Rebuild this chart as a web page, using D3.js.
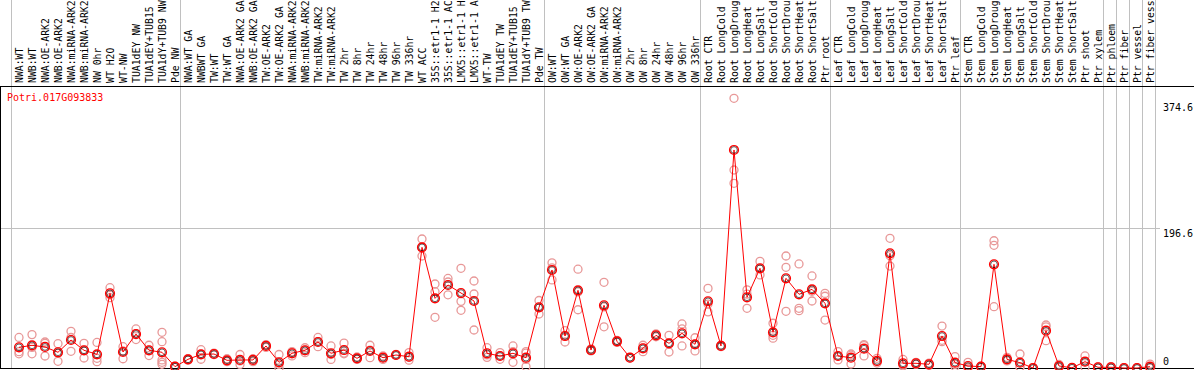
<!DOCTYPE html>
<html><head><meta charset="utf-8">
<script src="https://cdn.jsdelivr.net/npm/d3@7/dist/d3.min.js"></script>
<style>body{margin:0;background:#fff}svg{display:block}</style>
</head><body>
<svg id="chart" width="1194" height="370"></svg>
<script>
const geneId = "Potri.017G093833";
const categories = [
 "NWA:WT","NWB:WT","NWA:OE-ARK2","NWB:OE-ARK2","NWA:miRNA-ARK2","NWB:miRNA-ARK2","NW 0hr","WT H2O","WT-NW","TUA1dEY NW","TUA1dEY+TUB15 NW","TUA1dY+TUB9 NW","Pde NW",
 "NWA:WT GA","NWBWT GA","TW:WT","TW:WT GA","NWA:OE-ARK2 GA","NWB:OE-ARK2 GA","TW:OE-ARK2","TW:OE-ARK2 GA","NWA:miRNA-ARK2","NWB:miRNA-ARK2","TW:miRNA-ARK2","TW:miRNA-ARK2","TW 2hr","TW 8hr","TW 24hr","TW 48hr","TW 96hr","TW 336hr","WT ACC","35S::etr1-1 H2O","35S::etr1-1 ACC","LMX5::etr1-1 H2O","LMX5::etr1-1 ACC","WT-TW","TUA1dEY TW","TUA1dEY+TUB15 TW","TUA1dY+TUB9 TW","Pde TW",
 "OW:WT","OW:WT GA","OW:OE-ARK2","OW:OE-ARK2 GA","OW:miRNA-ARK2","OW:miRNA-ARK2","OW 2hr","OW 8hr","OW 24hr","OW 48hr","OW 96hr","OW 336hr",
 "Root CTR","Root LongCold","Root LongDrought","Root LongHeat","Root LongSalt","Root ShortCold","Root ShortDrought","Root ShortHeat","Root ShortSalt","Ptr root",
 "Leaf CTR","Leaf LongCold","Leaf LongDrought","Leaf LongHeat","Leaf LongSalt","Leaf ShortCold","Leaf ShortDrought","Leaf ShortHeat","Leaf ShortSalt","Ptr leaf",
 "Stem CTR","Stem LongCold","Stem LongDrought","Stem LongHeat","Stem LongSalt","Stem ShortCold","Stem ShortDrought","Stem ShortHeat","Stem ShortSalt","Ptr shoot","Ptr xylem",
 "Ptr phloem","Ptr fiber","Ptr vessel","Ptr fiber vessel"
];
const means = [
 29.1,31.9,29.6,22.1,39.4,24.9,19.2,105.1,22.5,47.8,24.9,22.1,1.9,
 12.2,19.2,19.7,10.8,11.3,11.3,31.0,8.0,20.7,24.9,36.6,20.7,25.3,13.6,23.9,14.5,18.3,15.9,169.8,98.0,116.8,105.5,94.3,20.7,16.9,20.7,14.5,85.4,
 137.9,45.0,109.3,25.3,88.2,37.5,14.5,27.7,46.0,34.7,48.8,33.3,
 93.9,31.0,306.8,99.5,140.3,50.2,126.2,103.7,110.7,91.0,
 16.9,14.5,27.2,9.9,161.4,6.6,6.6,5.2,45.0,7.5,
 2.8,1.9,145.9,12.2,7.5,0.0,52.5,2.8,0.3,8.9,1.0,
 1.0,0.0,0.0,1.9
];
const replicates = [
 [43,23,20],[47,29,20],[36.6,34.7,16.9],[34.2,20.7,9.4],[51.6,43,23.5],[34.7,25,14.1],[36,13.6,8.9],[113,103,99],[30,24,13],[55,48,40],[32,25,17.5],[50.2,37,11.3,8,5.2],[2,1,2.5],
 [13,12,11],[25.8,19.5,12.3],[21,19,19],[13,10.5,9],[19,10,5],[13,11,9],[33,31,29],[19,5,0],[23,17,22],[28.5,25,21.5],[43,37,30],[31,19,12],[35,21,20],[15.5,13.5,12],[32,25,14.5],[17,14.5,12],[19,18,18],[21.6,15,11],[181.5,170,157.6],[118.2,107.4,71.3],[126,121,103],[140.3,93.8,81.2],[122.4,104.1,53.5],[28.6,18.5,15],[21.6,17,12.2],[31,23,8],[23,21,12,2],[95,85,76],
 [148,141,124],[52.5,46,36.6],[139,107,82],[27,25,24],[120.6,86,58],[39,37.5,36],[15,14.5,14],[32,28,23],[48,46,44],[46,35,22.5],[62,55,31],[42.6,33.5,24],
 [112,90,79],[32,31,30],[379.5,278.6,259.9],[110,104,84],[150,140,131],[63,46,42],[157.6,141.7,79.8],[146.4,84,80.6],[129.5,108,94.3],[105,101,67.5],
 [23,16.9,11.3],[19.7,18,5.6],[33,31.5,17],[13.6,9,7],[182.5,158,143.5],[12,5,3],[8,7,5],[7,5,3.6],[59,39,37],[16,5,2],
 [8,0.5,0],[2.5,2,1.5],[179.1,172.7,86.3],[15,12,10],[19.7,1.9,1],[0,0,0.5],[60.5,58,38.4],[5,2.8,0.6],[0.5,0.2,0],[17,9,1],[1.5,1,0.5],
 [2,0.8,0.2],[0.3,0,0],[0.2,0,0],[5.5,0.2,0]
];
const yTicks = [0, 196.6, 374.6];
const gridValues = [196.6];
const separatorsAfter = [-1, 12, 40, 52, 62, 72, 83, 84, 85, 86, 87];
const maxLabelChars = 14;

const W = 1194, H = 370;
const svg = d3.select("#chart");
const FONT = "'DejaVu Sans Mono', monospace";
const x = d3.scaleLinear().domain([0, categories.length - 1]).range([19, 1150]);
const y = d3.scaleLinear().domain([0, 374.6]).range([368, 101.8]);
const plotTop = 86, plotBottom = 368;

// vertical separators
svg.append("g").selectAll("line").data(separatorsAfter).join("line")
  .attr("x1", d => Math.round(x(d) + 5) + 0.5).attr("x2", d => Math.round(x(d) + 5) + 0.5)
  .attr("y1", 0).attr("y2", plotBottom)
  .attr("stroke", "#c0c0c0").attr("stroke-width", 1);

// horizontal grid
svg.append("g").selectAll("line").data(gridValues).join("line")
  .attr("x1", 1).attr("x2", 1160)
  .attr("y1", d => Math.round(y(d)) + 0.5).attr("y2", d => Math.round(y(d)) + 0.5)
  .attr("stroke", "#c0c0c0").attr("stroke-width", 1);

// frame lines
svg.append("line").attr("x1", 0).attr("x2", W).attr("y1", plotTop + 0.5).attr("y2", plotTop + 0.5).attr("stroke", "#000");
svg.append("line").attr("x1", 0).attr("x2", W).attr("y1", plotBottom + 0.5).attr("y2", plotBottom + 0.5).attr("stroke", "#000");
svg.append("line").attr("x1", 0.5).attr("x2", 0.5).attr("y1", plotTop).attr("y2", plotBottom).attr("stroke", "#000");

// category labels (vertical, truncated like the original)
svg.append("g").selectAll("text").data(categories).join("text")
  .attr("transform", (d, i) => `translate(${x(i) + 3.5},83) rotate(-90)`)
  .attr("font-family", FONT).attr("font-size", 9.8).attr("fill", "#000")
  .text(d => d.slice(0, maxLabelChars));

// y tick labels
svg.append("g").selectAll("text").data(yTicks).join("text")
  .attr("x", 1163)
  .attr("y", d => d === 0 ? y(d) - 3 : y(d) + 9)
  .attr("font-family", FONT).attr("font-size", 10).attr("fill", "#000")
  .text(d => d);

// gene id
svg.append("text").attr("x", 7).attr("y", 101)
  .attr("font-family", FONT).attr("font-size", 10).attr("fill", "#ff0000")
  .text(geneId);

// replicate points
const reps = [];
replicates.forEach((arr, i) => arr.forEach(v => reps.push({i, v})));
svg.append("g").selectAll("circle").data(reps).join("circle")
  .attr("cx", d => x(d.i)).attr("cy", d => y(d.v)).attr("r", 4)
  .attr("fill", "none").attr("stroke", "#e89898").attr("stroke-width", 1.3);

// mean line
svg.append("path").datum(means)
  .attr("d", d3.line().x((d, i) => x(i)).y(d => y(d)))
  .attr("fill", "none").attr("stroke", "#ff0000").attr("stroke-width", 1);

// mean markers
const mg = svg.append("g");
mg.selectAll("circle.o").data(means).join("circle").attr("class", "o")
  .attr("cx", (d, i) => x(i)).attr("cy", d => y(d)).attr("r", 4.4)
  .attr("fill", "none").attr("stroke", "#ff0000").attr("stroke-width", 1.4);
mg.selectAll("circle.i").data(means).join("circle").attr("class", "i")
  .attr("cx", (d, i) => x(i)).attr("cy", d => y(d)).attr("r", 3.3)
  .attr("fill", "none").attr("stroke", "#000").attr("stroke-width", 0.6);
</script>
</body></html>
